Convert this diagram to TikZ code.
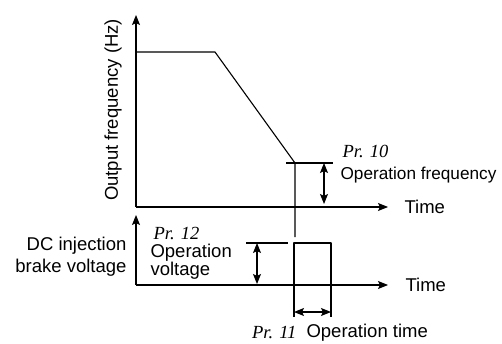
\documentclass[tikz,border=0pt]{standalone}
\usepackage{fontspec}
\setmainfont{Liberation Sans}
\newfontfamily\prfont{Liberation Serif}
\usetikzlibrary{positioning,arrows.meta}
\begin{document}
\begin{tikzpicture}[x=1pt,y=1pt,line join=round,>={Stealth[length=10pt,width=8pt,inset=2pt]},line width=1.1pt,
		lbl/.style={font=\fontsize{18.5}{20}\selectfont,inner sep=0pt},
		prlbl/.style={font=\prfont\itshape\fontsize{18.5}{20}\selectfont,inner sep=0pt}]
			\useasboundingbox (0,0) rectangle (502,343);
			\def\xo{136} \def\xe{388} \def\ya{136} \def\yb{58}
			% upper graph: output frequency
			\coordinate (Fo) at (\xo,\ya);
			\coordinate (Fx) at (\xe,\ya);
			\coordinate (Fy) at (\xo,328);
			\draw[->] (Fo)--(Fx);
			\draw[->] (Fo)--(Fy);
			\node[lbl,anchor=west] (timeA) at (404,\ya) {Time};
			\node[lbl,rotate=90] (ylabA) at (113,233) {Output frequency (Hz)};
			\coordinate (F1) at (\xo,291);
			\coordinate (F2) at (215,291);
			\coordinate (F3) at (295,180);
			\coordinate (F4) at (295,106);
			\draw (F1)--(F2)--(F3)--(F4);
			\coordinate (T1) at (286,180); \coordinate (T2) at (333,180);
			\draw (T1)--(T2);
			\coordinate (D1) at (324,180); \coordinate (D2) at (324,139);
			\draw[<->] (D1)--(D2);
			\node[prlbl,anchor=south west] (pr10) at (342,185) {Pr. 10};
			\node[lbl,anchor=west,font=\fontsize{17.2}{20}\selectfont] (opfreq) at (340,168) {Operation frequency};
			% lower graph: DC injection brake voltage
			\coordinate (Vo) at (\xo,\yb);
			\coordinate (Vx) at (\xe,\yb);
			\coordinate (Vy) at (\xo,128);
			\draw[->] (Vo)--(Vx);
			\draw[->] (Vo)--(Vy);
			\node[lbl,anchor=west] (timeB) at (405,\yb) {Time};
			\node[lbl,align=right,anchor=east,font=\fontsize{18.5}{22}\selectfont] (ylabB) at (127,86) {DC injection\\brake voltage};
			\coordinate (P1) at (294,\yb); \coordinate (P2) at (294,100);
			\coordinate (P3) at (331,100); \coordinate (P4) at (331,\yb);
			\draw (P1)--(P2)--(P3)--(P4);
			\coordinate (H1) at (246,100); \coordinate (H2) at (288,100);
			\draw (H1)--(H2);
			\coordinate (E1) at (257,100); \coordinate (E2) at (257,59);
			\draw[<->] (E1)--(E2);
			\node[prlbl,anchor=south west] (pr12) at (153,103) {Pr. 12};
			\node[lbl,align=left,anchor=west,font=\fontsize{18.5}{18}\selectfont] (opvolt) at (150,81) {Operation\\voltage};
			% operation time
			\coordinate (L1) at (294,\yb); \coordinate (L2) at (294,26);
			\coordinate (R1) at (331,\yb); \coordinate (R2) at (331,26);
			\draw (L1)--(L2); \draw (R1)--(R2);
			\coordinate (G1) at (294,31); \coordinate (G2) at (331,31);
			\draw[<->] (G1)--(G2);
			\node[lbl,anchor=west] (optime) at (306,10) {Operation time};
			\node[prlbl,anchor=east] (pr11) at (297,10) {Pr. 11};
		\end{tikzpicture}
\end{document}
